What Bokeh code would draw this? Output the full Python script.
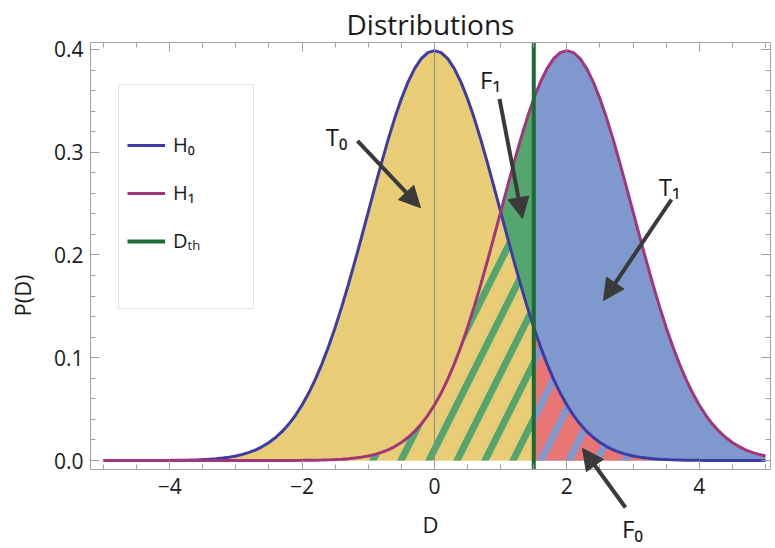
import numpy as np
from bokeh.plotting import figure
from bokeh.models import (Range1d, FixedTicker, LinearAxis, Label, Arrow, NormalHead,
                          BoxAnnotation, Legend, LegendItem)
from bokeh.embed import file_html
from bokeh.resources import INLINE

# ---------------- data ----------------
D = [round(-5.0 + 0.1 * i, 1) for i in range(101)]
H0 = [0.00000, 0.00000, 0.00000, 0.00001, 0.00001, 0.00002, 0.00002, 0.00004, 0.00006, 0.00009,
      0.00013, 0.00020, 0.00029, 0.00042, 0.00061, 0.00087, 0.00123, 0.00172, 0.00238, 0.00327,
      0.00443, 0.00595, 0.00792, 0.01042, 0.01358, 0.01753, 0.02239, 0.02833, 0.03547, 0.04398,
      0.05399, 0.06562, 0.07895, 0.09405, 0.11092, 0.12952, 0.14973, 0.17137, 0.19419, 0.21785,
      0.24197, 0.26609, 0.28969, 0.31225, 0.33322, 0.35207, 0.36827, 0.38139, 0.39104, 0.39695,
      0.39894,
      0.39695, 0.39104, 0.38139, 0.36827, 0.35207, 0.33322, 0.31225, 0.28969, 0.26609, 0.24197,
      0.21785, 0.19419, 0.17137, 0.14973, 0.12952, 0.11092, 0.09405, 0.07895, 0.06562, 0.05399,
      0.04398, 0.03547, 0.02833, 0.02239, 0.01753, 0.01358, 0.01042, 0.00792, 0.00595, 0.00443,
      0.00327, 0.00238, 0.00172, 0.00123, 0.00087, 0.00061, 0.00042, 0.00029, 0.00020, 0.00013,
      0.00009, 0.00006, 0.00004, 0.00002, 0.00002, 0.00001, 0.00001, 0.00000, 0.00000, 0.00000]
H1 = [0.00000, 0.00000, 0.00000, 0.00000, 0.00000, 0.00000, 0.00000, 0.00000, 0.00000, 0.00000,
      0.00000, 0.00000, 0.00000, 0.00000, 0.00000, 0.00000, 0.00000, 0.00000, 0.00000, 0.00000,
      0.00000, 0.00000, 0.00000, 0.00001, 0.00001, 0.00002, 0.00002, 0.00004, 0.00006, 0.00009,
      0.00013, 0.00020, 0.00029, 0.00042, 0.00061, 0.00087, 0.00123, 0.00172, 0.00238, 0.00327,
      0.00443, 0.00595, 0.00792, 0.01042, 0.01358, 0.01753, 0.02239, 0.02833, 0.03547, 0.04398,
      0.05399, 0.06562, 0.07895, 0.09405, 0.11092, 0.12952, 0.14973, 0.17137, 0.19419, 0.21785,
      0.24197, 0.26609, 0.28969, 0.31225, 0.33322, 0.35207, 0.36827, 0.38139, 0.39104, 0.39695,
      0.39894,
      0.39695, 0.39104, 0.38139, 0.36827, 0.35207, 0.33322, 0.31225, 0.28969, 0.26609, 0.24197,
      0.21785, 0.19419, 0.17137, 0.14973, 0.12952, 0.11092, 0.09405, 0.07895, 0.06562, 0.05399,
      0.04398, 0.03547, 0.02833, 0.02239, 0.01753, 0.01358, 0.01042, 0.00792, 0.00595, 0.00443]
DTH = 1.5

X_TICKS = [-4, -2, 0, 2, 4]
X_TICK_LABELS = ["\u22124", "\u22122", "0", "2", "4"]
Y_TICKS = [0.0, 0.1, 0.2, 0.3, 0.4]
Y_TICK_LABELS = ["0.0", "0.1", "0.2", "0.3", "0.4"]
LEGEND_LABELS = ["H\u2080", "H\u2081", "D\u209c\u2095"]
ANNOTATIONS = ["T\u2080", "F\u2081", "T\u2081", "F\u2080"]

# ---------------- styles ----------------
FONT = "Open Sans"
YELLOW = "#e9cd76"
GREEN = "#55a56f"
BLUE = "#7f98cd"
RED = "#e97575"
H0_COLOR = "#3b3ca6"
H1_COLOR = "#a3357a"
DTH_COLOR = "#1c6b33"
FRAME_COLOR = "#a0a0a0"
ARROW_COLOR = "#3a3a3a"
TEXT_COLOR = "#1a1a1a"

X_START, X_END = -5.196, 5.076
Y_AXIS = -0.00876           # where the visible frame (bottom axis) sits
Y_START, Y_END = -0.08564, 0.4068

x = np.array(D)
h0 = np.array(H0)
h1 = np.array(H1)
hmin = np.minimum(h0, h1)
left = x <= DTH + 1e-9
right = x >= DTH - 1e-9

p = figure(width=775, height=548, output_backend="svg", toolbar_location=None,
           x_range=Range1d(X_START, X_END), y_range=Range1d(Y_START, Y_END),
           min_border_left=90, min_border_right=5, min_border_top=42, min_border_bottom=0)

# fills
p.varea(x=x[left], y1=0, y2=h0[left], fill_color=YELLOW)
p.varea(x=x[left], y1=hmin[left], y2=h1[left], fill_color=GREEN)
p.varea(x=x[left], y1=0, y2=hmin[left], fill_color=YELLOW,
        hatch_pattern="/", hatch_color=GREEN, hatch_weight=7, hatch_scale=56)
p.varea(x=x[right], y1=0, y2=h1[right], fill_color=BLUE)
p.varea(x=x[right], y1=0, y2=hmin[right], fill_color=RED,
        hatch_pattern="/", hatch_color=BLUE, hatch_weight=7, hatch_scale=56)

# Mathematica-style axis line at D = 0
p.segment(x0=[0], y0=[Y_AXIS], x1=[0], y1=[Y_END], line_color="#8c8c8c", line_width=1)

r0 = p.line(x, h0, line_color=H0_COLOR, line_width=3)
r1 = p.line(x, h1, line_color=H1_COLOR, line_width=3)
rd = p.line([DTH, DTH], [Y_AXIS, Y_END], line_color=DTH_COLOR, line_width=4)

# annotations
head = dict(size=21, fill_color=ARROW_COLOR, line_color=ARROW_COLOR)
for xs, ys, xe, ye in [(-1.163, 0.311, -0.211, 0.246),
                       (0.982, 0.352, 1.329, 0.2355),
                       (3.58, 0.254, 2.553, 0.1557),
                       (2.885, -0.0457, 2.236, 0.0117)]:
    p.add_layout(Arrow(x_start=xs, y_start=ys, x_end=xe, y_end=ye,
                       end=NormalHead(**head), line_color=ARROW_COLOR, line_width=4))

for txt, tx, ty in zip(ANNOTATIONS, [-1.48, 0.846, 3.55, 2.99], [0.315, 0.371, 0.267, -0.066]):
    p.add_layout(Label(x=tx, y=ty, text=txt, text_align="center", text_baseline="middle",
                       text_font=FONT, text_font_size="24px", text_color=TEXT_COLOR))

# legend
p.add_layout(BoxAnnotation(left=-4.773, right=-2.734, bottom=0.1479, top=0.3659,
                           fill_alpha=0, line_color=FRAME_COLOR, line_width=1))
legend = Legend(items=[LegendItem(label=LEGEND_LABELS[0], renderers=[r0]),
                       LegendItem(label=LEGEND_LABELS[1], renderers=[r1]),
                       LegendItem(label=LEGEND_LABELS[2], renderers=[rd])],
                location=(37, 294), padding=0, margin=0, spacing=21,
                glyph_width=38, glyph_height=24, label_height=24, label_standoff=8,
                border_line_color=None, background_fill_alpha=0,
                label_text_font=FONT, label_text_font_size="20px", label_text_color=TEXT_COLOR)
p.add_layout(legend)

# title
p.title.text = "Distributions"
p.title.align = "center"
p.title.text_font = FONT
p.title.text_font_size = "28px"
p.title.text_font_style = "normal"
p.title.text_color = TEXT_COLOR
p.title.standoff = 0

# axes
xminor = [-5.0 + 0.5 * i for i in range(21)]
yminor = [0.02 * i for i in range(21)]

p.grid.visible = False
p.outline_line_color = None
p.background_fill_color = "white"

def style_axis(ax, ticks, minor, labels, show):
    ax.ticker = FixedTicker(ticks=ticks, minor_ticks=minor)
    ax.axis_line_color = FRAME_COLOR
    ax.major_tick_line_color = FRAME_COLOR
    ax.minor_tick_line_color = FRAME_COLOR
    ax.major_tick_in = 9
    ax.major_tick_out = 0
    ax.minor_tick_in = 5
    ax.minor_tick_out = 0
    if show:
        ax.major_label_overrides = {t: l for t, l in zip(ticks, labels)}
        ax.major_label_text_font = FONT
        ax.major_label_text_font_size = "21px"
        ax.major_label_text_color = TEXT_COLOR
        ax.axis_label_text_font = FONT
        ax.axis_label_text_font_size = "22px"
        ax.axis_label_text_font_style = "normal"
        ax.axis_label_text_color = TEXT_COLOR
    else:
        # frame side without labels (ticks only)
        ax.major_label_overrides = {t: "" for t in ticks}
        ax.major_label_text_font_size = "0px"
        ax.major_label_standoff = 0
        ax.axis_label_standoff = 0

xa = p.xaxis[0]
ya = p.yaxis[0]
style_axis(xa, X_TICKS, xminor, X_TICK_LABELS, True)
style_axis(ya, Y_TICKS, yminor, Y_TICK_LABELS, True)
xa.fixed_location = Y_AXIS
xa.axis_label = "D"
xa.major_label_standoff = 8
xa.axis_label_standoff = 12
ya.axis_label = "P(D)"
ya.bounds = (Y_AXIS, Y_END)
ya.major_label_standoff = 7
ya.axis_label_standoff = 14

top = LinearAxis()
style_axis(top, X_TICKS, xminor, X_TICK_LABELS, False)
p.add_layout(top, "above")
rgt = LinearAxis(bounds=(Y_AXIS, Y_END))
style_axis(rgt, Y_TICKS, yminor, Y_TICK_LABELS, False)
p.add_layout(rgt, "right")

open("out.html", "w").write(file_html(p, INLINE))
